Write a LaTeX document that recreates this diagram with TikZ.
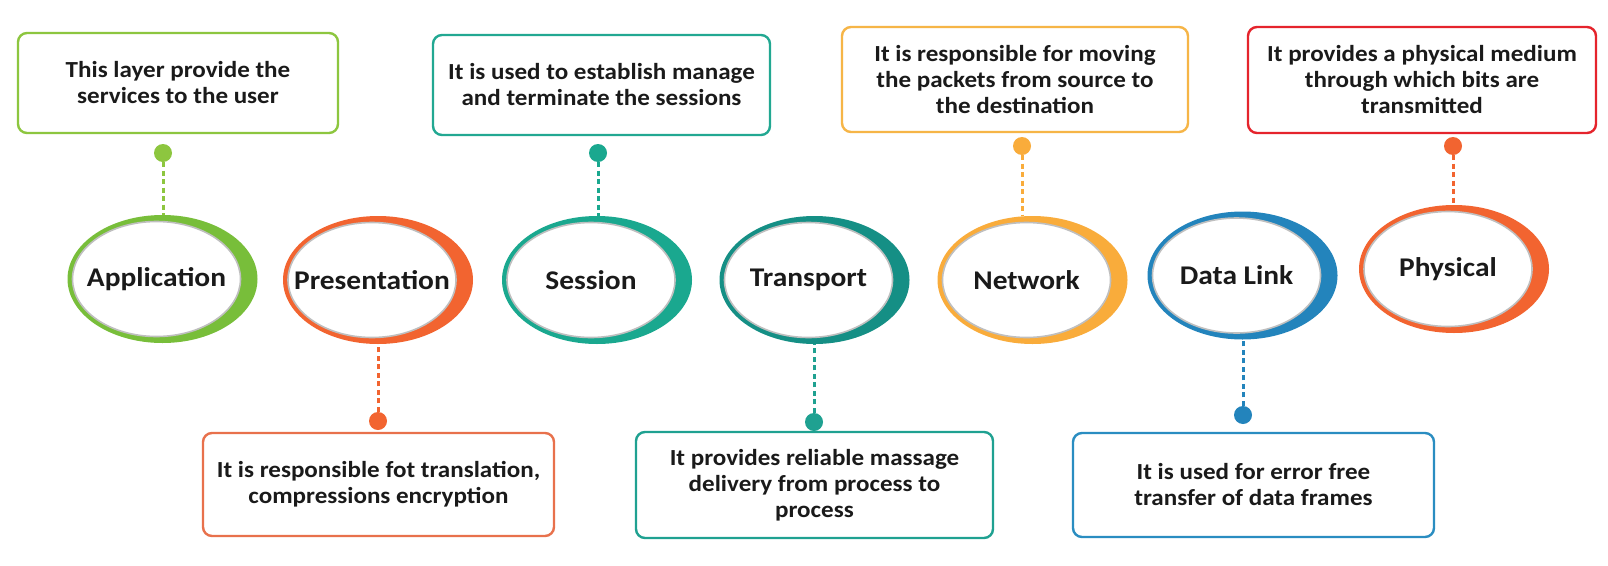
\documentclass[tikz,border=0pt]{standalone}
\usepackage{fontspec}
\setmainfont{Carlito}
\newfontfamily\wideface[FakeStretch=1.09]{Carlito}
\usetikzlibrary{shapes.geometric}
\definecolor{appc}{HTML}{78BE3A}
\definecolor{appb}{HTML}{8DC63F}
\definecolor{prec}{HTML}{F26430}
\definecolor{preb}{HTML}{E8714C}
\definecolor{sesc}{HTML}{1AA88F}
\definecolor{sesb}{HTML}{22A892}
\definecolor{trac}{HTML}{158F85}
\definecolor{trab}{HTML}{1FA191}
\definecolor{netc}{HTML}{F9AC3B}
\definecolor{netb}{HTML}{F6B547}
\definecolor{dlc}{HTML}{2384BC}
\definecolor{dlb}{HTML}{2A8DC1}
\definecolor{phyc}{HTML}{F26430}
\definecolor{phyb}{HTML}{E5242C}
\definecolor{txt}{HTML}{1A1A1A}
\newcommand{\facetext}[1]{\makebox[0pt][c]{#1}}
\begin{document}
\begin{tikzpicture}[x=1pt,y=-1pt,
  infobox/.style={draw=#1, line width=2.4pt, rounded corners=9pt, fill=white,
    inner sep=0pt, align=center, text=txt,
    font=\wideface\fontsize{23}{26}\selectfont\bfseries},
  ring/.style={ellipse, fill=#1, minimum width=190pt, minimum height=128pt, inner sep=0pt},
  face/.style={ellipse, fill=white, draw=gray!50, line width=1.6pt,
    minimum width=168pt, minimum height=115pt, inner sep=0pt, text=txt,
    font=\wideface\fontsize{27}{30}\selectfont\bfseries},
  bead/.style={circle, fill=#1, minimum size=18pt, inner sep=0pt},
  link/.style={draw=#1, line width=3pt, dash pattern=on 5pt off 3.5pt}]
\useasboundingbox[fill=white] (0,0) rectangle (1608,565);

% boxes
\node[infobox=appb, minimum width=320pt, minimum height=100pt] (appbox) at (178,83) {This layer provide the\\services to the user};
\node[infobox=sesb, minimum width=337pt, minimum height=100pt] (sesbox) at (601.5,85) {It is used to establish manage\\and terminate the sessions};
\node[infobox=netb, minimum width=346pt, minimum height=105pt] (netbox) at (1015,79.5) {It is responsible for moving\\the packets from source to\\the destination};
\node[infobox=phyb, minimum width=348pt, minimum height=106pt] (phybox) at (1422,80) {It provides a physical medium\\through which bits are\\transmitted};
\node[infobox=preb, minimum width=351pt, minimum height=103pt] (prebox) at (378.5,484.5) {It is responsible fot translation,\\compressions encryption};
\node[infobox=trab, minimum width=357pt, minimum height=106pt] (trabox) at (814.5,485) {It provides reliable massage\\delivery from process to\\process};
\node[infobox=dlb, minimum width=361pt, minimum height=104pt] (dlbox) at (1253.5,485) {It is used for error free\\transfer of data frames};

% rings
\node[ring=appc] (appring) at (162.5,279) {};
\node[face] (app) at (156.5,279) {\facetext{Application}};
\node[ring=prec] (prering) at (378,280) {};
\node[face] (pre) at (372,280) {\facetext{Presentation}};
\node[ring=sesc] (sesring) at (597,280) {};
\node[face] (ses) at (591,280) {\facetext{Session}};
\node[ring=trac] (traring) at (814.5,280) {};
\node[face] (tra) at (808.5,280) {\facetext{Transport}};
\node[ring=netc] (netring) at (1032.5,280) {};
\node[face] (net) at (1026.5,280) {\facetext{Network}};
\node[ring=dlc] (dlring) at (1242.5,275.5) {};
\node[face] (dl) at (1236.5,275.5) {\facetext{Data Link}};
\node[ring=phyc] (phyring) at (1454,269) {};
\node[face] (phy) at (1448,269) {\facetext{Physical}};

% dots
\node[bead=appb] (appdot) at (163,153) {};
\node[bead=prec] (predot) at (378,421) {};
\node[bead=sesc] (sesdot) at (598,153) {};
\node[bead=trab] (tradot) at (814,422) {};
\node[bead=netc] (netdot) at (1022,146) {};
\node[bead=dlc] (dldot) at (1243,415) {};
\node[bead=phyc] (phydot) at (1453,146) {};

% connectors
\draw[link=appb] (appdot.south) -- (appdot.south |- appring.north);
\draw[link=sesc] (sesdot.south) -- (sesdot.south |- sesring.north);
\draw[link=netc] (netdot.south) -- ([yshift=1pt]netdot.south |- netring.north);
\draw[link=phyc] (phydot.south) -- (phydot.south |- phyring.north);
\draw[link=prec] (predot.north) -- (predot.north |- prering.south);
\draw[link=trab] (tradot.north) -- (tradot.north |- traring.south);
\draw[link=dlc] (dldot.north) -- (dldot.north |- dlring.south);
\end{tikzpicture}
\end{document}
